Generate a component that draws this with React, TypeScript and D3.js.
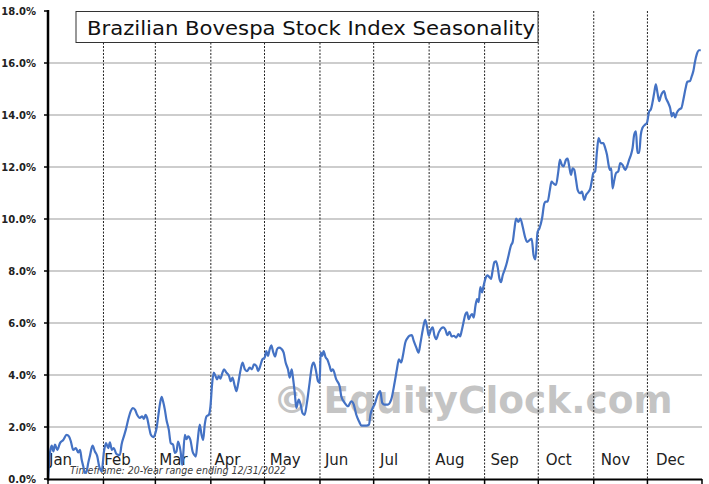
import React, { useEffect, useRef } from "react";
import * as d3 from "d3";

const days: number[] = [
  0, 1.1, 2.1, 3.0, 3.9, 5.2, 6.7, 8.5, 10.4, 11.7, 12.8, 14.1, 15.6, 16.9, 17.9, 18.8, 19.7, 20.6, 21.6, 22.5,
  23.4, 24.9, 26.2, 27.5, 28.6, 30.0, 31.3, 32.4, 33.7, 34.6, 35.7, 36.8, 38.0, 39.2, 40.2, 41.1, 42.4, 43.5, 44.8, 46.2,
  47.3, 48.6, 49.8, 51.3, 52.6, 53.6, 54.5, 55.4, 56.4, 57.5, 58.8, 59.7, 60.7, 61.6, 62.5, 63.5, 64.3, 65.3, 66.2, 67.5,
  68.6, 69.9, 70.9, 71.8, 72.7, 74.1, 75.0, 76.5, 77.4, 78.3, 79.6, 80.8, 81.7, 82.6, 83.5, 84.8, 85.8, 86.7, 87.6, 88.6,
  89.9, 90.8, 91.7, 92.6, 93.6, 94.5, 95.4, 96.4, 97.5, 98.4, 99.7, 101.2, 102.1, 103.1, 104.4, 105.3, 106.2, 107.5, 108.7, 110.0,
  111.2, 112.7, 114.0, 115.1, 116.5, 117.4, 118.3, 119.8, 121.1, 122.0, 122.9, 123.9, 124.8, 125.7, 126.9, 128.0, 129.1, 130.4, 131.7, 132.8,
  134.1, 135.1, 136.2, 136.9, 137.9, 138.8, 140.1, 141.2, 142.2, 143.4, 144.7, 146.2, 147.5, 148.5, 149.6, 150.9, 151.8, 152.4, 153.3, 154.0,
  155.2, 156.1, 157.4, 158.3, 159.2, 161.1, 163.0, 163.9, 165.8, 167.7, 169.5, 170.9, 172.3, 173.8, 175.2, 178.0, 179.4, 180.2, 181.7, 182.5,
  184.3, 185.7, 186.8, 188.1, 189.9, 191.8, 193.7, 195.0, 196.1, 197.4, 198.3, 199.7, 200.8, 202.0, 203.3, 204.4, 205.8, 207.1, 208.2, 209.5,
  210.8, 211.9, 212.8, 214.1, 215.0, 216.0, 216.9, 218.4, 219.7, 221.0, 222.1, 223.2, 224.4, 225.6, 226.8, 228.1, 229.4, 230.3, 231.2, 232.2,
  233.3, 234.2, 235.1, 236.1, 237.0, 237.9, 238.9, 239.8, 240.7, 241.6, 242.6, 243.3, 244.4, 245.7, 246.7, 247.6, 248.5, 249.5, 250.4, 251.3,
  252.3, 253.2, 254.1, 255.4, 256.5, 257.4, 258.8, 259.7, 260.6, 261.6, 262.9, 264.0, 265.3, 266.6, 267.7, 269.0, 270.3, 271.4, 272.4, 273.6,
  274.6, 276.1, 277.4, 278.3, 279.2, 280.5, 281.4, 282.5, 283.9, 285.2, 286.1, 287.2, 288.1, 289.5, 290.4, 291.3, 292.3, 293.2, 294.1, 295.1,
  296.0, 297.3, 298.4, 299.7, 300.7, 301.9, 303.1, 304.0, 304.7, 305.8, 306.8, 307.7, 309.0, 310.3, 311.4, 312.4, 313.3, 314.0, 314.8, 315.5,
  316.5, 317.4, 318.7, 319.8, 321.1, 322.6, 323.9, 324.8, 325.8, 326.7, 327.6, 328.6, 329.4, 330.4, 331.3, 332.2, 333.7, 334.7, 336.0, 336.9,
  337.8, 338.8, 339.7, 340.6, 341.6, 342.5, 343.4, 344.3, 345.3, 346.6, 347.7, 348.6, 349.5, 350.5, 351.4, 352.7, 354.0, 355.1, 356.4, 357.3,
  358.8, 359.8, 360.7, 361.5, 362.6, 363.9, 364.8,
];

const values: number[] = [
  0.0, 1.0, 1.28, 1.06, 1.32, 1.12, 1.38, 1.5, 1.7, 1.64, 1.44, 1.12, 1.19, 1.02, 1.12, 0.75, 0.49, 0.23, 0.3, 0.62,
  0.88, 1.28, 1.06, 0.88, 0.49, 0.3, 1.06, 1.38, 1.19, 1.41, 1.12, 1.19, 0.99, 0.93, 0.93, 1.32, 1.64, 1.9, 2.28, 2.6,
  2.73, 2.67, 2.47, 2.35, 2.41, 2.31, 2.47, 2.35, 2.02, 1.7, 1.61, 1.7, 1.96, 2.41, 2.86, 3.16, 2.99, 2.67, 2.28, 1.9,
  1.38, 1.32, 1.0, 1.06, 1.44, 1.06, 0.54, 1.7, 1.53, 1.64, 1.5, 1.06, 0.93, 0.86, 1.38, 2.09, 1.7, 1.5, 2.09, 2.41,
  2.47, 2.8, 3.64, 4.09, 3.96, 3.83, 3.96, 3.86, 4.09, 4.22, 4.09, 3.96, 3.76, 3.9, 3.57, 3.38, 3.64, 4.15, 4.48, 4.22,
  4.15, 4.28, 4.22, 4.41, 4.34, 4.15, 4.28, 4.6, 4.67, 4.92, 4.73, 4.99, 5.14, 4.92, 4.71, 4.99, 5.05, 5.01, 4.86, 4.48,
  4.22, 3.9, 4.22, 3.9, 3.32, 2.73, 3.05, 2.86, 2.54, 2.47, 2.93, 3.7, 4.34, 4.48, 4.22, 3.76, 3.7, 4.86, 4.73, 4.92,
  4.67, 4.6, 4.34, 4.15, 4.22, 3.83, 3.57, 3.18, 2.93, 2.8, 2.99, 2.86, 2.47, 2.22, 2.05, 2.05, 2.09, 2.47, 2.77, 2.86,
  3.25, 3.38, 2.93, 2.86, 2.86, 3.05, 3.7, 4.22, 4.6, 4.48, 4.73, 5.25, 5.41, 5.51, 5.53, 5.31, 5.06, 4.86, 5.25, 5.76,
  6.12, 5.83, 5.51, 5.76, 5.83, 5.51, 5.38, 5.64, 5.79, 5.83, 5.74, 5.53, 5.66, 5.48, 5.51, 5.44, 5.57, 5.48, 5.7, 6.02,
  6.34, 6.41, 6.15, 6.28, 6.34, 6.21, 6.67, 6.92, 6.8, 7.38, 7.18, 7.38, 7.7, 7.83, 7.76, 7.7, 8.02, 8.34, 8.37, 8.15,
  7.7, 7.57, 7.83, 8.08, 8.34, 8.6, 8.99, 9.12, 9.57, 10.02, 9.89, 10.02, 9.7, 9.31, 9.12, 9.18, 9.24, 8.6, 8.45, 9.5,
  9.63, 10.02, 10.6, 10.67, 10.67, 11.12, 11.44, 11.37, 11.31, 11.83, 12.28, 12.08, 12.02, 12.28, 12.32, 12.02, 11.7, 11.95, 11.89, 11.5,
  11.12, 10.99, 11.05, 10.73, 10.92, 11.03, 11.18, 11.5, 11.76, 11.83, 12.6, 13.11, 12.92, 12.92, 12.73, 12.47, 12.08, 11.89, 11.95, 11.18,
  11.5, 11.76, 11.83, 12.15, 12.08, 11.89, 12.08, 12.28, 12.47, 12.73, 13.24, 13.37, 12.54, 12.54, 13.24, 13.5, 13.63, 13.69, 14.14, 14.21,
  14.47, 14.86, 15.18, 14.86, 14.53, 14.73, 14.86, 14.92, 14.66, 14.47, 14.27, 13.95, 14.08, 13.91, 14.08, 14.21, 14.27, 14.6, 15.05, 15.28,
  15.31, 15.5, 15.7, 16.02, 16.34, 16.49, 16.49,
];

const monthNames: string[] = ["Jan", "Feb", "Mar", "Apr", "May", "Jun", "Jul", "Aug", "Sep", "Oct", "Nov", "Dec"];
const monthStartDays: number[] = [0, 31, 60, 91, 121, 152, 182, 213, 244, 274, 305, 335, 365.5];
const yTicks: number[] = [0, 2, 4, 6, 8, 10, 12, 14, 16, 18];
const gridTicks: number[] = [2, 4, 6, 8, 10, 12, 14, 16];

const title = "Brazilian Bovespa Stock Index Seasonality";
const timeframe = "Timeframe: 20-Year range ending 12/31/2022";
const watermark = "\u00A9 EquityClock.com";

const W = 709;
const H = 484;

export default function App() {
  const ref = useRef<SVGSVGElement | null>(null);

  useEffect(() => {
    const svg = d3.select(ref.current);
    svg.selectAll("*").remove();

    const x = d3.scaleLinear().domain([0, 365.5]).range([48, 702]);
    const y = d3.scaleLinear().domain([0, 18]).range([479, 11]);
    const labelX = d3.scalePoint<string>().domain(monthNames).range([49, 656]);

    svg.append("rect").attr("width", W).attr("height", H).attr("fill", "#ffffff");

    // watermark
    svg
      .append("text")
      .attr("x", 273)
      .attr("y", 413)
      .attr("font-family", "DejaVu Sans, Verdana, sans-serif")
      .attr("font-weight", "bold")
      .attr("font-size", 37.5)
      .attr("fill", "#c4c4c4")
      .text(watermark);

    // horizontal grid
    svg
      .append("g")
      .selectAll("line")
      .data(gridTicks)
      .join("line")
      .attr("x1", x.range()[0])
      .attr("x2", x.range()[1])
      .attr("y1", (d) => y(d))
      .attr("y2", (d) => y(d))
      .attr("stroke", "#bdbdbd")
      .attr("stroke-width", 1.5);

    // vertical dashed month lines
    svg
      .append("g")
      .selectAll("line")
      .data(monthStartDays.slice(1, 12))
      .join("line")
      .attr("x1", (d) => x(d))
      .attr("x2", (d) => x(d))
      .attr("y1", y(18))
      .attr("y2", y(0))
      .attr("stroke", "#222")
      .attr("stroke-width", 1)
      .attr("stroke-dasharray", "2,1.5");

    // month labels
    svg
      .append("g")
      .selectAll("text")
      .data(monthNames)
      .join("text")
      .attr("x", (d) => labelX(d) as number)
      .attr("y", 465)
      .attr("font-family", "DejaVu Sans, Verdana, sans-serif")
      .attr("font-size", 15)
      .attr("fill", "#222")
      .text((d) => d);

    // timeframe note
    svg
      .append("text")
      .attr("x", 70)
      .attr("y", 474)
      .attr("font-family", "DejaVu Sans, Verdana, sans-serif")
      .attr("font-style", "italic")
      .attr("font-size", 10.5)
      .attr("fill", "#3a3a3a")
      .attr("textLength", 216)
      .attr("lengthAdjust", "spacingAndGlyphs")
      .text(timeframe);

    // data line
    const pts: [number, number][] = days.map((d, i) => [d, values[i]]);
    const line = d3
      .line<[number, number]>()
      .x((d) => x(d[0]))
      .y((d) => y(d[1]))
      .curve(d3.curveMonotoneX);
    svg
      .append("path")
      .datum(pts)
      .attr("d", line)
      .attr("fill", "none")
      .attr("stroke", "#4472C4")
      .attr("stroke-width", 2.2)
      .attr("stroke-linejoin", "round");

    // axes
    svg
      .append("line")
      .attr("x1", x.range()[0])
      .attr("x2", x.range()[1])
      .attr("y1", y(0) + 0.5)
      .attr("y2", y(0) + 0.5)
      .attr("stroke", "#000")
      .attr("stroke-width", 2);
    svg
      .append("g")
      .selectAll("line")
      .data(monthStartDays)
      .join("line")
      .attr("x1", (d) => x(d))
      .attr("x2", (d) => x(d))
      .attr("y1", y(0))
      .attr("y2", y(0) + 5)
      .attr("stroke", "#000")
      .attr("stroke-width", 1.5);

    svg
      .append("line")
      .attr("x1", x.range()[0])
      .attr("x2", x.range()[0])
      .attr("y1", y(18) - 1)
      .attr("y2", y(0) + 1.5)
      .attr("stroke", "#000")
      .attr("stroke-width", 2.5);
    svg
      .append("g")
      .selectAll("line")
      .data(yTicks)
      .join("line")
      .attr("x1", x.range()[0] - 4)
      .attr("x2", x.range()[0])
      .attr("y1", (d) => y(d))
      .attr("y2", (d) => y(d))
      .attr("stroke", "#000")
      .attr("stroke-width", 1.5);
    svg
      .append("g")
      .selectAll("text")
      .data(yTicks)
      .join("text")
      .attr("x", 36)
      .attr("y", (d) => y(d))
      .attr("dy", "0.36em")
      .attr("text-anchor", "end")
      .attr("font-family", "DejaVu Sans, Verdana, sans-serif")
      .attr("font-weight", "bold")
      .attr("font-size", 10)
      .attr("fill", "#222")
      .text((d) => d3.format(".1f")(d) + "%");

    // title box
    svg
      .append("rect")
      .attr("x", 76)
      .attr("y", 11.5)
      .attr("width", 462)
      .attr("height", 31)
      .attr("fill", "#fff")
      .attr("stroke", "#333")
      .attr("stroke-width", 1);
    svg
      .append("text")
      .attr("x", 87)
      .attr("y", 35)
      .attr("font-family", "DejaVu Sans, Verdana, sans-serif")
      .attr("font-size", 20)
      .attr("fill", "#111")
      .attr("textLength", 448)
      .attr("lengthAdjust", "spacingAndGlyphs")
      .text(title);
  }, []);

  return (
    <svg
      ref={ref}
      width={W}
      height={H}
      style={{ position: "absolute", left: 0, top: 0, display: "block" }}
    />
  );
}
